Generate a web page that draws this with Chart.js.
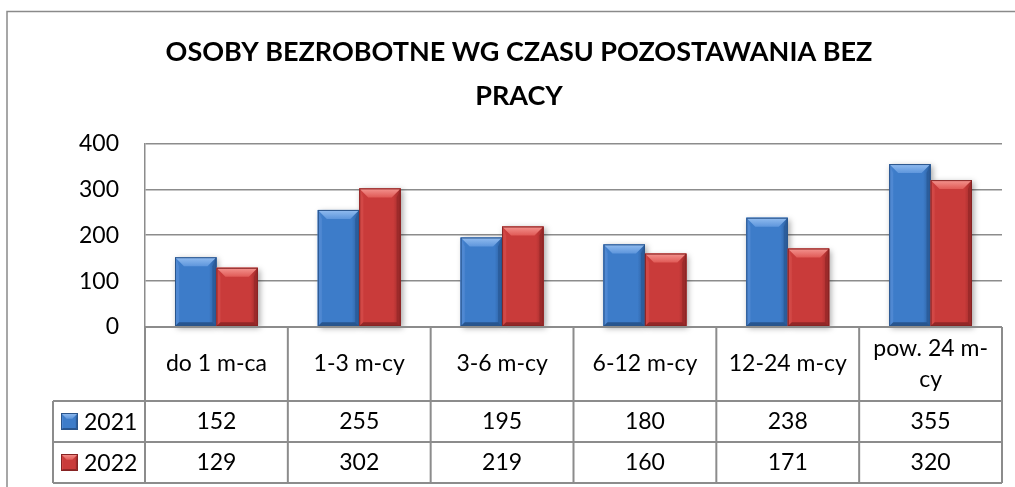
<!DOCTYPE html>
<html><head><meta charset="utf-8">
<script src="https://cdn.jsdelivr.net/npm/chart.js@4.4.0/dist/chart.umd.min.js"></script>
<style>html,body{margin:0;padding:0;background:#fff;overflow:hidden}#wrap{width:1015px;height:487px;position:relative}</style>
</head><body><div id="wrap"><canvas id="c" width="1015" height="487"></canvas></div>
<script>
const titleLines = ['OSOBY BEZROBOTNE WG CZASU POZOSTAWANIA BEZ', 'PRACY'];
const categories = ['do 1 m-ca', '1-3 m-cy', '3-6 m-cy', '6-12 m-cy', '12-24 m-cy', ['pow. 24 m-', 'cy']];
const seriesNames = ['2021', '2022'];
const values2021 = [152, 255, 195, 180, 238, 355];
const values2022 = [129, 302, 219, 160, 171, 320];
const yMin = 0, yMax = 400, yStep = 100;

const palettes = [
  {main:'#3d7cc9', topA:'#93bdf0', topB:'#5e96dc', left:'#4f88d2', right:'#2b5d9c', bottom:'#27558f', edge:'#2a548a'},
  {main:'#c93b3a', topA:'#f49590', topB:'#e05a56', left:'#d24846', right:'#9c2a2a', bottom:'#922727', edge:'#862323'}
];
const GRID = '#8c8c8c';
const FONT = 'Lato, "Open Sans", sans-serif';

function poly(ctx, pts, fill) {
  ctx.beginPath(); ctx.moveTo(pts[0][0], pts[0][1]);
  for (let i = 1; i < pts.length; i++) ctx.lineTo(pts[i][0], pts[i][1]);
  ctx.closePath(); ctx.fillStyle = fill; ctx.fill();
}
function bevelRect(ctx, l, t, r, b, p, bvTop, sv) {
  const w = r - l, h = b - t;
  if (w <= 0 || h <= 0) return;
  const bv = Math.min(bvTop, w / 3, h / 2);
  const g = ctx.createLinearGradient(l, 0, r, 0);
  g.addColorStop(0, p.left); g.addColorStop(0.12, p.main); g.addColorStop(0.82, p.main); g.addColorStop(1, p.right);
  ctx.fillStyle = g; ctx.fillRect(l, t, w, h);
  poly(ctx, [[l, t], [l + sv, t + bv], [l + sv, b - sv], [l, b]], p.left);
  poly(ctx, [[r, t], [r, b], [r - sv, b - sv], [r - sv, t + bv]], p.right);
  poly(ctx, [[l, b], [r, b], [r - sv, b - sv], [l + sv, b - sv]], p.bottom);
  const tg = ctx.createLinearGradient(0, t, 0, t + bv);
  tg.addColorStop(0, p.topA); tg.addColorStop(1, p.topB);
  poly(ctx, [[l, t], [r, t], [r - bv, t + bv], [l + bv, t + bv]], tg);
  ctx.lineWidth = 1; ctx.strokeStyle = p.edge;
  ctx.strokeRect(l + 0.5, t + 0.5, w - 1, h - 1);
}

const bevelPlugin = {
  id: 'bevel',
  afterLayout(chart) {
    const t = chart.titleBlock;
    if (t) { t.left += 18; t.right += 18; }
  },
  beforeDatasetsDraw(chart) {
    const ctx = chart.ctx;
    ctx.save();
    chart.data.datasets.forEach((ds, di) => {
      chart.getDatasetMeta(di).data.forEach(el => {
        const l = el.x - el.width / 2, r = el.x + el.width / 2;
        ctx.shadowColor = 'rgba(0,0,0,0.35)'; ctx.shadowBlur = 6; ctx.shadowOffsetX = 2; ctx.shadowOffsetY = 2;
        ctx.fillStyle = palettes[di].main;
        ctx.fillRect(l, el.y, r - l, el.base - el.y);
      });
    });
    ctx.restore();
  },
  afterDatasetsDraw(chart) {
    const ctx = chart.ctx;
    ctx.save();
    chart.data.datasets.forEach((ds, di) => {
      chart.getDatasetMeta(di).data.forEach(el => {
        const l = el.x - el.width / 2, r = el.x + el.width / 2;
        bevelRect(ctx, l, el.y, r, el.base, palettes[di], 9, 4);
      });
    });
    ctx.restore();
  }
};

const framePlugin = {
  id: 'frame',
  beforeDraw(chart) {
    const ctx = chart.ctx;
    ctx.save();
    ctx.strokeStyle = '#8a8a8a'; ctx.lineWidth = 1.5;
    ctx.beginPath();
    ctx.moveTo(7, 487); ctx.lineTo(7, 11.5); ctx.lineTo(1015, 11.5);
    ctx.stroke();
    ctx.restore();
  }
};

const tablePlugin = {
  id: 'dataTable',
  afterDraw(chart) {
    const ctx = chart.ctx, a = chart.chartArea, xs = chart.scales.x;
    const n = categories.length, cw = (a.right - a.left) / n;
    const yCat = a.bottom, yR1 = yCat + 74, yR2 = yR1 + 41, yEnd = yR2 + 41;
    const legL = 53;
    ctx.save();
    ctx.strokeStyle = GRID; ctx.lineWidth = 2;
    ctx.beginPath();
    for (let i = 0; i <= n; i++) {
      const x = a.left + i * cw;
      ctx.moveTo(x, yCat); ctx.lineTo(x, yEnd);
    }
    ctx.moveTo(a.left, yCat); ctx.lineTo(a.right, yCat);
    [yR1, yR2, yEnd].forEach(y => { ctx.moveTo(legL, y); ctx.lineTo(a.right, y); });
    ctx.moveTo(legL, yR1); ctx.lineTo(legL, yEnd);
    ctx.stroke();

    ctx.fillStyle = '#000';
    ctx.font = '23px ' + FONT;
    ctx.textAlign = 'center'; ctx.textBaseline = 'middle';
    const rows = [values2021, values2022];
    const rowMid = [(yR1 + yR2) / 2, (yR2 + yEnd) / 2];
    categories.forEach((c, i) => {
      const x = xs.getPixelForValue(i);
      const lines = Array.isArray(c) ? c : [c];
      const mid = (yCat + yR1) / 2, lh = 31;
      lines.forEach((s, k) => ctx.fillText(s, x, mid + (k - (lines.length - 1) / 2) * lh));
      rows.forEach((vals, r) => ctx.fillText(String(vals[i]), x, rowMid[r]));
    });
    seriesNames.forEach((s, r) => {
      const cy = rowMid[r];
      bevelRect(ctx, 61, cy - 8.5, 78, cy + 8.5, palettes[r], 6, 2);
      ctx.fillStyle = '#000';
      ctx.textAlign = 'left';
      ctx.fillText(s, 84, cy + 1);
    });
    ctx.restore();
  }
};

new Chart(document.getElementById('c'), {
  type: 'bar',
  data: {
    labels: categories,
    datasets: [
      {label: seriesNames[0], data: values2021, backgroundColor: palettes[0].main},
      {label: seriesNames[1], data: values2022, backgroundColor: palettes[1].main}
    ]
  },
  options: {
    responsive: false,
    animation: false,
    events: [],
    layout: {padding: {left: 0, top: 0, right: 13, bottom: 0}},
    datasets: {bar: {categoryPercentage: 0.58, barPercentage: 1.0}},
    plugins: {
      legend: {display: false},
      tooltip: {enabled: false},
      title: {
        display: true, text: titleLines, color: '#000',
        font: {family: FONT, size: 27, weight: 'bold', lineHeight: 1.6},
        padding: {top: 31, bottom: 26}
      }
    },
    scales: {
      x: {
        ticks: {display: false},
        grid: {display: false},
        border: {display: false},
        afterFit(s) { s.height = 160; }
      },
      y: {
        min: yMin, max: yMax,
        ticks: {stepSize: yStep, color: '#000', padding: 26, font: {family: FONT, size: 23}},
        grid: {color: GRID, lineWidth: 1.5, drawTicks: false},
        border: {display: true, color: GRID, width: 1.5},
        afterFit(s) { s.width = 145; }
      }
    }
  },
  plugins: [framePlugin, bevelPlugin, tablePlugin]
});
</script>
</body></html>
